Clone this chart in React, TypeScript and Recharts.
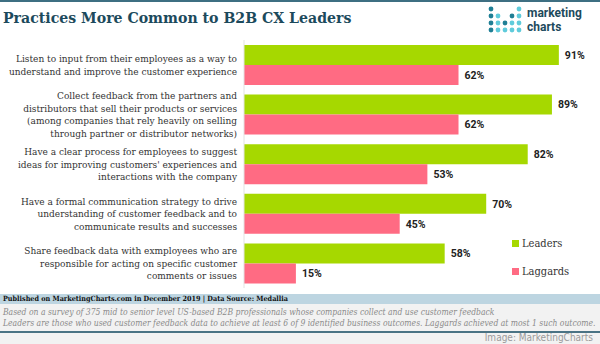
import React from 'react';
import { BarChart, Bar, XAxis, YAxis, LabelList } from 'recharts';

// practice labels, line breaks as in the original
const practices = [
  'Listen to input from their employees as a way to\nunderstand and improve the customer experience',
  'Collect feedback from the partners and\ndistributors that sell their products or services\n(among companies that rely heavily on selling\nthrough partner or distributor networks)',
  "Have a clear process for employees to suggest\nideas for improving customers' experiences and\ninteractions with the company",
  'Have a formal communication strategy to drive\nunderstanding of customer feedback and to\ncommunicate results and successes',
  'Share feedback data with exmployees who are\nresponsible for acting on specific customer\ncomments or issues',
];
const leaders = [91, 89, 82, 70, 58];
const laggards = [62, 62, 53, 45, 15];

const GREEN = '#a6d800';
const PINK = '#ff6b83';
const SERIF = "'DejaVu Serif Condensed', 'DejaVu Serif', serif";

const data = practices.map((p, i) => ({ practice: p, leaders: leaders[i], laggards: laggards[i] }));

const PracticeTick = (props: any) => {
  const { x, y, payload } = props;
  const lines: string[] = String(payload.value).split('\n');
  const lh = 12.4;
  const top = y - ((lines.length - 1) * lh) / 2;
  return (
    <text x={x} y={top} textAnchor="end" fontFamily={SERIF} fontSize={10} fill="#333">
      {lines.map((l, i) => (
        <tspan key={i} x={x} dy={i === 0 ? '0.35em' : lh}>
          {l}
        </tspan>
      ))}
    </text>
  );
};

const series = [
  { name: 'Leaders', color: GREEN },
  { name: 'Laggards', color: PINK },
];

const LegendBox = () => (
  <div style={{ position: 'absolute', left: 512, top: 229, fontFamily: SERIF, fontSize: 11, color: '#333' }}>
    {series.map((it) => (
      <div key={it.name} style={{ display: 'flex', alignItems: 'center', height: 28 }}>
        <span style={{ width: 7, height: 7, background: it.color, marginRight: 3 }} />
        {it.name}
      </div>
    ))}
  </div>
);

// logo dot grid: 1 = dark teal, 2 = light cyan, 0 = empty
const logoDots = [
  [1, 0, 0, 0, 2],
  [1, 2, 0, 1, 2],
  [1, 2, 1, 2, 2],
  [1, 2, 2, 2, 2],
];

const Logo = () => (
  <div style={{ position: 'absolute', left: 488, top: 6, display: 'flex', alignItems: 'center' }}>
    <svg width={34} height={28}>
      {logoDots.map((row, r) =>
        row.map((d, c) =>
          d ? <circle key={`${r}-${c}`} cx={3 + c * 7} cy={3 + r * 7} r={2.4} fill={d === 1 ? '#1f7f95' : '#5fcbdb'} /> : null
        )
      )}
    </svg>
    <div style={{ fontFamily: 'Roboto, sans-serif', fontWeight: 700, fontSize: 12, lineHeight: '14px', color: '#1d4a5c', marginLeft: 5 }}>
      <div>marketing</div>
      <div>charts</div>
    </div>
  </div>
);

const valueLabel = { fontFamily: 'Roboto, sans-serif', fontWeight: 700, fontSize: 10.5, fill: '#222' };

export default function App() {
  return (
    <div style={{ position: 'relative', width: 600, height: 344, background: '#fff', overflow: 'hidden' }}>
      <style>{'body{margin:0}'}</style>
      <div style={{ position: 'absolute', left: 0, top: 0, width: 600, height: 2, background: '#3e6f82' }} />
      <div
        style={{
          position: 'absolute',
          left: 3,
          top: 8,
          fontFamily: SERIF,
          fontWeight: 700,
          fontSize: 15.7,
          color: '#1c4a5c',
          whiteSpace: 'nowrap',
        }}
      >
        Practices More Common to B2B CX Leaders
      </div>
      <Logo />
      <div style={{ position: 'absolute', left: 0, top: 0 }}>
        <BarChart
          width={600}
          height={290}
          data={data}
          layout="vertical"
          margin={{ top: 40, right: 10, bottom: 2, left: 0 }}
          barCategoryGap={5}
          barGap={0}
        >
          <XAxis type="number" domain={[0, 100]} hide />
          <YAxis
            type="category"
            dataKey="practice"
            width={244}
            axisLine={{ stroke: '#e2e2e2' }}
            tickLine={false}
            tickMargin={1}
            interval={0}
            tick={<PracticeTick />}
          />
          <Bar dataKey="leaders" name="Leaders" fill={GREEN} isAnimationActive={false}>
            <LabelList dataKey="leaders" position="right" offset={6} formatter={(v: any) => `${v}%`} style={valueLabel} />
          </Bar>
          <Bar dataKey="laggards" name="Laggards" fill={PINK} isAnimationActive={false}>
            <LabelList dataKey="laggards" position="right" offset={6} formatter={(v: any) => `${v}%`} style={valueLabel} />
          </Bar>
        </BarChart>
      </div>
      <LegendBox />
      <div style={{ position: 'absolute', left: 0, top: 304, width: 600, height: 40, background: '#f2f2f2' }} />
      <div
        style={{
          position: 'absolute',
          left: 0,
          top: 294,
          width: 600,
          height: 10,
          background: '#bdd5e1',
          fontFamily: SERIF,
          fontWeight: 700,
          fontSize: 7.2,
          lineHeight: '10px',
          color: '#111',
          paddingLeft: 3,
          boxSizing: 'border-box',
          whiteSpace: 'nowrap',
        }}
      >
        Published on MarketingCharts.com in December 2019 | Data Source: Medallia
      </div>
      <div
        style={{
          position: 'absolute',
          left: 3,
          top: 307,
          fontFamily: SERIF,
          fontStyle: 'italic',
          fontSize: 8.5,
          lineHeight: '10.5px',
          color: '#8a8a8a',
          whiteSpace: 'nowrap',
        }}
      >
        Based on a survey of 375 mid to senior level US-based B2B professionals whose companies collect and use customer feedback
        <br />
        Leaders are those who used customer feedback data to achieve at least 6 of 9 identified business outcomes. Laggards achieved at most 1 such outcome.
      </div>
      <div style={{ position: 'absolute', left: 0, top: 331, width: 600, height: 1.5, background: '#4a7384' }} />
      <div
        style={{
          position: 'absolute',
          right: 7,
          top: 332,
          fontFamily: "'Liberation Sans Narrow', 'DejaVu Sans Condensed', sans-serif",
          fontSize: 10,
          color: '#9a9a9a',
          whiteSpace: 'nowrap',
        }}
      >
        Image: MarketingCharts
      </div>
    </div>
  );
}
